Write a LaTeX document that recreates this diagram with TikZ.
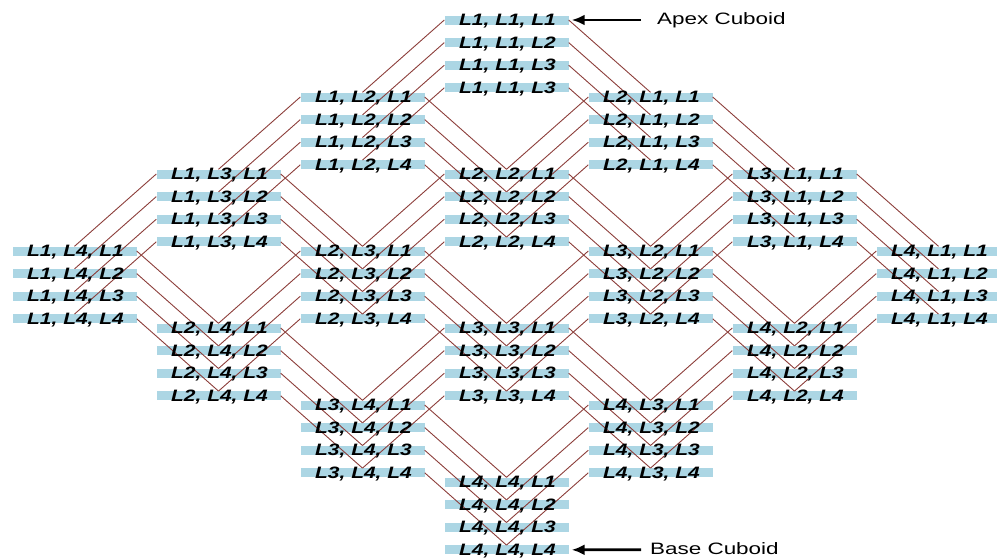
\documentclass[tikz,border=0pt]{standalone}
\usepackage{fontspec}
\newfontfamily\cubefont[FakeStretch=1.27]{Liberation Sans}
\newfontfamily\notefont[FakeStretch=1.36]{Liberation Sans}
\usetikzlibrary{arrows.meta}
\definecolor{barblue}{RGB}{172,214,228}
\definecolor{linkbrown}{RGB}{140,62,58}
\tikzset{
  cubebar/.style={rectangle, fill=barblue, minimum width=124pt, minimum height=9pt, inner sep=0pt},
  cubetext/.style={font=\cubefont\bfseries\itshape\fontsize{16.5}{16.5}\selectfont, inner sep=0pt, text=black, anchor=base},
  link/.style={draw=linkbrown, line width=0.9pt},
  pointer/.style={line width=2.8pt, -{Latex[length=13pt,width=11pt]}, shorten >=3pt},
  note/.style={font=\notefont\fontsize{16.5}{16.5}\selectfont, anchor=west, inner sep=0pt},
}
\begin{document}
\begin{tikzpicture}[x=1pt,y=-1pt]
\useasboundingbox (0,0) rectangle (997,558);
% one bar per cuboid (L\i, L\j, L\k); group (\i,\j) sits on a diamond lattice
\foreach \i in {1,...,4}{
  \foreach \j in {1,...,4}{
    \foreach \k in {1,...,4}{
      \pgfmathsetmacro\cx{506.5+(\i-\j)*144}
      \pgfmathsetmacro\cy{20+(\i+\j-2)*77+(\k-1)*22.6}
      \node[cubebar] (c-\i-\j-\k) at (\cx,\cy) {};
    }}}
% roll-up links: right end down to the next first level, left end down to the next second level
\foreach \i in {1,...,4}{
  \foreach \j in {1,...,4}{
    \foreach \k in {1,...,4}{
      \pgfmathtruncatemacro\ni{\i+1}
      \pgfmathtruncatemacro\nj{\j+1}
      \ifnum\i<4 \draw[link] (c-\i-\j-\k.east) -- (c-\ni-\j-\k.north); \fi
      \ifnum\j<4 \draw[link] (c-\i-\j-\k.west) -- (c-\i-\nj-\k.north); \fi
    }}}
% labels
\foreach \i in {1,...,4}{
  \foreach \j in {1,...,4}{
    \foreach \k in {1,...,4}{
      \pgfmathtruncatemacro\shown{(\i==1 && \j==1 && \k==4) ? 3 : \k}
      \node[cubetext] (t-\i-\j-\k) at ([xshift=1pt,yshift=-5.4pt]c-\i-\j-\k.center) {L\i, L\j, L\shown};
    }}}
% apex and base markers
\coordinate (apex-tail) at (641,20);
\draw[pointer] (apex-tail) -- (c-1-1-1.east);
\node[note] (apex-note) at (657,20) {Apex Cuboid};
\coordinate (base-tail) at (641,549.8);
\draw[pointer] (base-tail) -- (c-4-4-4.east);
\node[note] (base-note) at (650,549) {Base Cuboid};
\end{tikzpicture}
\end{document}
